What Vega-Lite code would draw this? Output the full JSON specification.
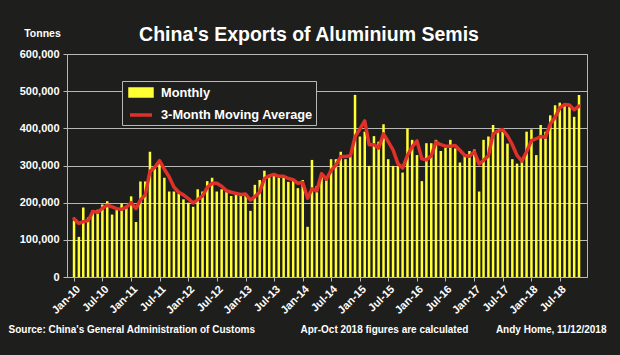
{
  "$schema": "https://vega.github.io/schema/vega-lite/v6.json",
  "autosize": {"type": "none"},
  "padding": {"left": 67, "top": 54, "right": 33, "bottom": 78},
  "width": 520,
  "height": 223,
  "background": "#1e1e1c",
  "title": {
    "text": "China's Exports of Aluminium Semis",
    "font": "Liberation Sans",
    "fontSize": 19.5,
    "fontWeight": "bold",
    "color": "white",
    "anchor": "middle",
    "frame": "group",
    "baseline": "alphabetic",
    "offset": 0,
    "dx": -18,
    "dy": 32
  },
  "data": {
    "values": [
      {"date": "2010-01-01", "monthly": 152000, "ma": 157000},
      {"date": "2010-02-01", "monthly": 108000, "ma": 144000},
      {"date": "2010-03-01", "monthly": 187000, "ma": 149000},
      {"date": "2010-04-01", "monthly": 160000, "ma": 152000},
      {"date": "2010-05-01", "monthly": 180000, "ma": 176000},
      {"date": "2010-06-01", "monthly": 181000, "ma": 174000},
      {"date": "2010-07-01", "monthly": 195000, "ma": 185000},
      {"date": "2010-08-01", "monthly": 204000, "ma": 193000},
      {"date": "2010-09-01", "monthly": 168000, "ma": 189000},
      {"date": "2010-10-01", "monthly": 180000, "ma": 184000},
      {"date": "2010-11-01", "monthly": 198000, "ma": 182000},
      {"date": "2010-12-01", "monthly": 186000, "ma": 188000},
      {"date": "2011-01-01", "monthly": 217000, "ma": 200000},
      {"date": "2011-02-01", "monthly": 148000, "ma": 184000},
      {"date": "2011-03-01", "monthly": 257000, "ma": 207000},
      {"date": "2011-04-01", "monthly": 257000, "ma": 221000},
      {"date": "2011-05-01", "monthly": 337000, "ma": 284000},
      {"date": "2011-06-01", "monthly": 292000, "ma": 295000},
      {"date": "2011-07-01", "monthly": 310000, "ma": 313000},
      {"date": "2011-08-01", "monthly": 267000, "ma": 290000},
      {"date": "2011-09-01", "monthly": 230000, "ma": 269000},
      {"date": "2011-10-01", "monthly": 230000, "ma": 242000},
      {"date": "2011-11-01", "monthly": 225000, "ma": 228000},
      {"date": "2011-12-01", "monthly": 209000, "ma": 221000},
      {"date": "2012-01-01", "monthly": 200000, "ma": 211000},
      {"date": "2012-02-01", "monthly": 189000, "ma": 199000},
      {"date": "2012-03-01", "monthly": 236000, "ma": 208000},
      {"date": "2012-04-01", "monthly": 230000, "ma": 218000},
      {"date": "2012-05-01", "monthly": 258000, "ma": 241000},
      {"date": "2012-06-01", "monthly": 267000, "ma": 252000},
      {"date": "2012-07-01", "monthly": 230000, "ma": 252000},
      {"date": "2012-08-01", "monthly": 236000, "ma": 244000},
      {"date": "2012-09-01", "monthly": 230000, "ma": 232000},
      {"date": "2012-10-01", "monthly": 218000, "ma": 228000},
      {"date": "2012-11-01", "monthly": 228000, "ma": 225000},
      {"date": "2012-12-01", "monthly": 221000, "ma": 222000},
      {"date": "2013-01-01", "monthly": 221000, "ma": 223000},
      {"date": "2013-02-01", "monthly": 178000, "ma": 207000},
      {"date": "2013-03-01", "monthly": 248000, "ma": 216000},
      {"date": "2013-04-01", "monthly": 261000, "ma": 229000},
      {"date": "2013-05-01", "monthly": 286000, "ma": 265000},
      {"date": "2013-06-01", "monthly": 270000, "ma": 272000},
      {"date": "2013-07-01", "monthly": 272000, "ma": 276000},
      {"date": "2013-08-01", "monthly": 270000, "ma": 271000},
      {"date": "2013-09-01", "monthly": 270000, "ma": 271000},
      {"date": "2013-10-01", "monthly": 256000, "ma": 265000},
      {"date": "2013-11-01", "monthly": 261000, "ma": 262000},
      {"date": "2013-12-01", "monthly": 239000, "ma": 252000},
      {"date": "2014-01-01", "monthly": 261000, "ma": 254000},
      {"date": "2014-02-01", "monthly": 135000, "ma": 212000},
      {"date": "2014-03-01", "monthly": 315000, "ma": 237000},
      {"date": "2014-04-01", "monthly": 245000, "ma": 232000},
      {"date": "2014-05-01", "monthly": 275000, "ma": 278000},
      {"date": "2014-06-01", "monthly": 270000, "ma": 263000},
      {"date": "2014-07-01", "monthly": 317000, "ma": 287000},
      {"date": "2014-08-01", "monthly": 317000, "ma": 301000},
      {"date": "2014-09-01", "monthly": 337000, "ma": 324000},
      {"date": "2014-10-01", "monthly": 317000, "ma": 324000},
      {"date": "2014-11-01", "monthly": 325000, "ma": 326000},
      {"date": "2014-12-01", "monthly": 490000, "ma": 377000},
      {"date": "2015-01-01", "monthly": 378000, "ma": 398000},
      {"date": "2015-02-01", "monthly": 391000, "ma": 420000},
      {"date": "2015-03-01", "monthly": 299000, "ma": 356000},
      {"date": "2015-04-01", "monthly": 379000, "ma": 356000},
      {"date": "2015-05-01", "monthly": 364000, "ma": 347000},
      {"date": "2015-06-01", "monthly": 411000, "ma": 385000},
      {"date": "2015-07-01", "monthly": 317000, "ma": 364000},
      {"date": "2015-08-01", "monthly": 299000, "ma": 342000},
      {"date": "2015-09-01", "monthly": 299000, "ma": 305000},
      {"date": "2015-10-01", "monthly": 281000, "ma": 293000},
      {"date": "2015-11-01", "monthly": 400000, "ma": 327000},
      {"date": "2015-12-01", "monthly": 369000, "ma": 350000},
      {"date": "2016-01-01", "monthly": 328000, "ma": 366000},
      {"date": "2016-02-01", "monthly": 258000, "ma": 318000},
      {"date": "2016-03-01", "monthly": 360000, "ma": 315000},
      {"date": "2016-04-01", "monthly": 360000, "ma": 326000},
      {"date": "2016-05-01", "monthly": 369000, "ma": 363000},
      {"date": "2016-06-01", "monthly": 339000, "ma": 356000},
      {"date": "2016-07-01", "monthly": 348000, "ma": 352000},
      {"date": "2016-08-01", "monthly": 369000, "ma": 352000},
      {"date": "2016-09-01", "monthly": 346000, "ma": 354000},
      {"date": "2016-10-01", "monthly": 308000, "ma": 341000},
      {"date": "2016-11-01", "monthly": 328000, "ma": 327000},
      {"date": "2016-12-01", "monthly": 339000, "ma": 325000},
      {"date": "2017-01-01", "monthly": 343000, "ma": 337000},
      {"date": "2017-02-01", "monthly": 230000, "ma": 304000},
      {"date": "2017-03-01", "monthly": 369000, "ma": 314000},
      {"date": "2017-04-01", "monthly": 378000, "ma": 326000},
      {"date": "2017-05-01", "monthly": 409000, "ma": 385000},
      {"date": "2017-06-01", "monthly": 391000, "ma": 393000},
      {"date": "2017-07-01", "monthly": 391000, "ma": 397000},
      {"date": "2017-08-01", "monthly": 359000, "ma": 380000},
      {"date": "2017-09-01", "monthly": 317000, "ma": 356000},
      {"date": "2017-10-01", "monthly": 305000, "ma": 327000},
      {"date": "2017-11-01", "monthly": 314000, "ma": 312000},
      {"date": "2017-12-01", "monthly": 391000, "ma": 337000},
      {"date": "2018-01-01", "monthly": 397000, "ma": 367000},
      {"date": "2018-02-01", "monthly": 328000, "ma": 372000},
      {"date": "2018-03-01", "monthly": 409000, "ma": 378000},
      {"date": "2018-04-01", "monthly": 391000, "ma": 376000},
      {"date": "2018-05-01", "monthly": 435000, "ma": 412000},
      {"date": "2018-06-01", "monthly": 462000, "ma": 429000},
      {"date": "2018-07-01", "monthly": 469000, "ma": 455000},
      {"date": "2018-08-01", "monthly": 462000, "ma": 464000},
      {"date": "2018-09-01", "monthly": 458000, "ma": 463000},
      {"date": "2018-10-01", "monthly": 431000, "ma": 450000},
      {"date": "2018-11-01", "monthly": 490000, "ma": 460000}
    ]
  },
  "layer": [
    {
      "mark": {"type": "bar", "size": 2.5},
      "encoding": {
        "x": {
          "field": "date",
          "type": "temporal",
          "scale": {"domain": ["2009-12-19", "2018-11-20"]},
          "axis": {
            "format": "%b-%y",
            "tickCount": {"interval": "month", "step": 6},
            "labelAngle": -45,
            "labelFontSize": 11,
            "labelPadding": 2,
            "labelOverlap": false,
            "labelFlush": false,
            "labelBound": false,
            "tickSize": 4,
            "grid": false,
            "title": "Source: China's General Administration of Customs",
            "titleFontSize": 10,
            "titleX": -59,
            "titleY": 55,
            "titleAlign": "left",
            "titleAnchor": "start",
            "titleBaseline": "alphabetic"
          }
        },
        "y": {
          "field": "monthly",
          "type": "quantitative",
          "scale": {"domain": [0, 600000]},
          "axis": {
            "values": [0, 100000, 200000, 300000, 400000, 500000, 600000],
            "format": ",d",
            "labelFontSize": 11,
            "labelPadding": 4,
            "tickSize": 4,
            "grid": true,
            "gridColor": "#b8b8b8",
            "gridWidth": 1,
            "title": "Tonnes",
            "titleFontSize": 10.5,
            "titleAngle": 0,
            "titleX": -25,
            "titleY": -21,
            "titleAlign": "center",
            "titleBaseline": "middle"
          }
        },
        "color": {
          "datum": "Monthly",
          "type": "nominal",
          "scale": {"domain": ["Monthly", "3-Month Moving Average"], "range": ["#ffff33", "#e0302a"]},
          "legend": {
            "title": null,
            "orient": "none",
            "legendX": 55,
            "legendY": 27,
            "direction": "vertical",
            "fillColor": "#1e1e1c",
            "strokeColor": "#b8b8b8",
            "padding": 3,
            "rowPadding": 2.5,
            "symbolSize": 169,
            "labelOffset": 19,
            "labelFont": "Liberation Sans",
            "labelFontSize": 12.8,
            "labelFontWeight": "bold",
            "labelColor": "white",
            "labelLimit": 300,
            "encode": {
              "symbols": {
                "update": {
                  "shape": {"signal": "datum.value === 'Monthly' ? 'M-0.54,-0.54H2.845V0.54H-0.54Z' : 'M-0.54,0H2.845'"},
                  "fill": {"signal": "datum.value === 'Monthly' ? '#ffff33' : 'transparent'"},
                  "stroke": {"signal": "datum.value === 'Monthly' ? 'transparent' : '#e0302a'"},
                  "strokeWidth": {"value": 3.5},
                  "opacity": {"value": 1},
                  "fillOpacity": {"value": 1},
                  "strokeOpacity": {"value": 1}
                }
              }
            }
          }
        }
      }
    },
    {
      "mark": {"type": "line", "strokeWidth": 3.5, "strokeJoin": "round", "strokeCap": "round"},
      "encoding": {
        "x": {
          "field": "date",
          "type": "temporal",
          "scale": {"domain": ["2009-12-19", "2018-11-20"]},
          "axis": {
            "orient": "top",
            "domain": false,
            "ticks": false,
            "labels": false,
            "grid": false,
            "title": "Apr-Oct 2018 figures are calculated",
            "titleFontSize": 10,
            "titleX": 233,
            "titleY": 278,
            "titleAlign": "left",
            "titleAnchor": "start",
            "titleBaseline": "alphabetic"
          }
        },
        "y": {
          "field": "ma",
          "type": "quantitative",
          "scale": {"domain": [0, 600000]},
          "axis": {
            "orient": "right",
            "domain": false,
            "ticks": false,
            "labels": false,
            "grid": false,
            "title": "Andy Home, 11/12/2018",
            "titleFontSize": 10,
            "titleAngle": 0,
            "titleX": 19,
            "titleY": 278,
            "titleAlign": "right",
            "titleBaseline": "alphabetic"
          }
        },
        "color": {"datum": "3-Month Moving Average", "type": "nominal", "legend": null}
      }
    }
  ],
  "resolve": {"axis": {"x": "independent", "y": "independent"}},
  "config": {
    "view": {"stroke": "#b8b8b8", "strokeWidth": 1},
    "axis": {
      "labelFont": "Liberation Sans",
      "titleFont": "Liberation Sans",
      "labelColor": "white",
      "titleColor": "white",
      "labelFontWeight": "bold",
      "titleFontWeight": "bold",
      "domainColor": "#b8b8b8",
      "tickColor": "#b8b8b8"
    }
  }
}
